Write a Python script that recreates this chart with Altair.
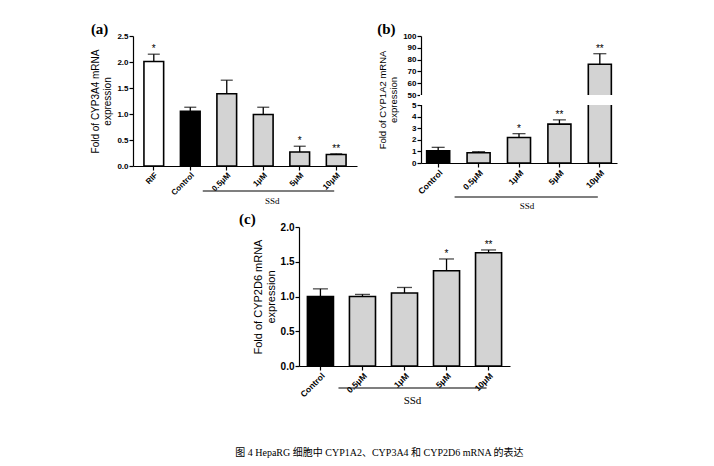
import altair as alt
import pandas as pd

# ---------------- data ----------------
a_groups = ["RIF", "Control", "0.5μM", "1μM", "5μM", "10μM"]
a_kinds = ["RIF", "Control", "SSd", "SSd", "SSd", "SSd"]
a_means = [2.01, 1.05, 1.39, 0.99, 0.27, 0.22]
a_errs = [0.14, 0.08, 0.26, 0.14, 0.11, 0.015]
a_stars = ["*", "", "", "", "*", "**"]

b_groups = ["Control", "0.5μM", "1μM", "5μM", "10μM"]
b_kinds = ["Control", "SSd", "SSd", "SSd", "SSd"]
b_means = [1.05, 0.88, 2.2, 3.35, 76.0]
b_errs = [0.3, 0.1, 0.33, 0.37, 9.0]
b_stars = ["", "", "*", "**", "**"]

c_groups = ["Control", "0.5μM", "1μM", "5μM", "10μM"]
c_kinds = ["Control", "SSd", "SSd", "SSd", "SSd"]
c_means = [1.0, 1.0, 1.05, 1.37, 1.63]
c_errs = [0.11, 0.03, 0.08, 0.17, 0.04]
c_stars = ["", "", "", "*", "**"]

fill_keys = ["RIF", "Control", "SSd"]
fill_colors = ["#ffffff", "#000000", "#d3d3d3"]

SANS = "Liberation Sans"
SERIF = "Liberation Serif"


def panel(label, groups, kinds, means, errs, stars, ytitle, yscale, yvalues,
          yfmt, width, height, pin, pout, lab_size, xlab_size, title_size, cap_size,
          line_off, text_off, ssd_dx, label_dx=0, gap=None):
    df = pd.DataFrame({"group": groups, "kind": kinds, "mean": means,
                       "err": errs, "star": stars})
    df["top"] = df["mean"] + df["err"]
    base = alt.Chart(df)
    xenc = alt.X("group:N",
                 scale=alt.Scale(domain=groups, paddingInner=pin, paddingOuter=pout),
                 axis=alt.Axis(title=None, labelAngle=-45, labelFont=SANS,
                               labelFontWeight="bold", labelFontSize=xlab_size,
                               labelColor="black", domainColor="black",
                               tickColor="black", tickSize=4, labelPadding=1,
                               labelOverlap=False, labelBound=False,
                               domainWidth=1.2, tickWidth=1.2))
    yenc = alt.Y("mean:Q", scale=yscale,
                 axis=alt.Axis(title=ytitle, values=yvalues, format=yfmt,
                               tickCount=len(yvalues) + 2,
                               grid=False, labelFont=SANS, labelFontWeight="bold",
                               labelFontSize=lab_size, labelColor="black",
                               labelOverlap=False, labelBound=False,
                               labelFlush=False,
                               titleFont=SANS, titleFontWeight="normal",
                               titleFontSize=title_size, titleColor="black",
                               titlePadding=4, domainColor="black",
                               tickColor="black", tickSize=4, labelPadding=1,
                               domainWidth=1.2, tickWidth=1.2))
    bars = base.mark_bar(stroke="black", strokeWidth=1.6).encode(
        x=xenc, y=yenc,
        fill=alt.Fill("kind:N", scale=alt.Scale(domain=fill_keys, range=fill_colors),
                      legend=None))
    whisk = base.mark_rule(color="black", strokeWidth=1.3).encode(
        x="group:N", y="mean:Q", y2="top:Q")
    caps = base.mark_tick(color="black", thickness=1.3, size=cap_size).encode(
        x="group:N", y="top:Q")
    star = base.mark_text(font=SANS, fontSize=10, baseline="alphabetic", dy=-2,
                          color="black").encode(x="group:N", y="top:Q", text="star:N")
    layers = [bars, whisk, caps, star]
    if gap is not None:
        gdf = pd.DataFrame({"lo": [gap[0]], "hi": [gap[1]]})
        layers.append(alt.Chart(gdf).mark_rect(fill="white").encode(
            x=alt.value(-1), x2=alt.value(width + 1), y="lo:Q", y2="hi:Q"))
    sdf = pd.DataFrame({"start": ["0.5μM"], "end": ["10μM"], "mid": ["1μM"],
                        "name": ["SSd"]})
    sline = alt.Chart(sdf).mark_rule(color="black", strokeWidth=1.2,
                                     xOffset=-24, x2Offset=-2).encode(
        x="start:N", x2="end:N", y=alt.value(height + line_off))
    stext = alt.Chart(sdf).mark_text(font=SERIF, fontSize=lab_size + 1, dx=ssd_dx,
                                     baseline="middle", color="black").encode(
        x="mid:N", y=alt.value(height + text_off), text="name:N")
    layers += [sline, stext]
    return alt.layer(*layers).properties(
        width=width, height=height,
        title=alt.TitleParams(label, anchor="start", frame="bounds", font=SERIF,
                              fontWeight="bold", fontSize=15, color="black",
                              offset=-5, dx=label_dx))


pa = panel("(a)", a_groups, a_kinds, a_means, a_errs, a_stars,
           ["Fold of CYP3A4 mRNA", "expression"],
           alt.Scale(domain=[0, 2.5], nice=False),
           [0, 0.5, 1.0, 1.5, 2.0, 2.5], ".1f",
           224, 130, 0.46, 0.3, 8, 8, 10, 12, 25, 35, 9)

pb = panel("(b)", b_groups, b_kinds, b_means, b_errs, b_stars,
           ["Fold of CYP1A2 mRNA", "expression"],
           alt.Scale(domain=[0, 5, 50, 100], range=[127, 69, 59, 0], nice=False),
           [0, 1, 2, 3, 4, 5, 50, 60, 70, 80, 90, 100], "d",
           196, 127, 0.43, 0.14, 8, 8.5, 9.5, 13, 34, 43, 8,
           gap=(5, 50))

pc = panel("(c)", c_groups, c_kinds, c_means, c_errs, c_stars,
           ["Fold of CYP2D6 mRNA", "expression"],
           alt.Scale(domain=[0, 2.0], nice=False),
           [0, 0.5, 1.0, 1.5, 2.0], ".1f",
           211, 139, 0.38, 0.2, 10, 8.5, 11, 15, 22, 35, 8, label_dx=-13)

spacer = alt.Chart(pd.DataFrame({"v": [0]})).mark_point(opacity=0).encode(
    x=alt.value(0), y=alt.value(0)).properties(width=106, height=10)

top = alt.hconcat(pa, pb, spacing=20)
bottom = alt.hconcat(spacer, pc, spacing=0)

chart = alt.vconcat(top, bottom, spacing=1).properties(
    padding={"left": 82, "top": 14, "right": 5, "bottom": 2},
    title=alt.TitleParams("图 4 HepaRG 细胞中 CYP1A2、CYP3A4 和 CYP2D6 mRNA 的表达",
                          orient="bottom", anchor="middle",
                          font="Liberation Serif, Noto Sans CJK SC",
                          fontSize=10, fontWeight="normal", color="black",
                          offset=42, dx=25)
).configure_view(stroke=None)

chart.save("out.html", embed_options={"renderer": "svg", "actions": False})
